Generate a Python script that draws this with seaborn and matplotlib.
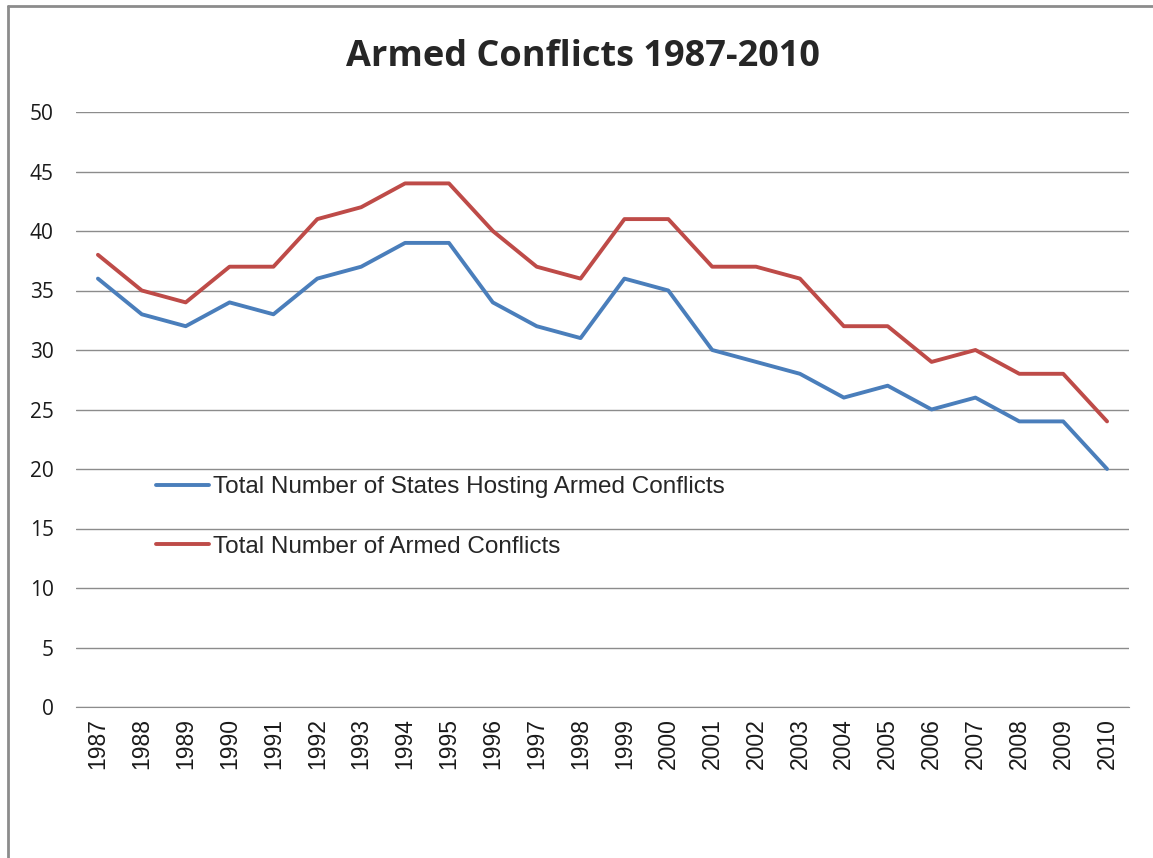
import pandas as pd
import matplotlib.pyplot as plt
import seaborn as sns
from matplotlib.lines import Line2D

years = list(range(1987, 2011))
states_hosting = [36, 33, 32, 34, 33, 36, 37, 39, 39, 34, 32, 31,
                  36, 35, 30, 29, 28, 26, 27, 25, 26, 24, 24, 20]
armed_conflicts = [38, 35, 34, 37, 37, 41, 42, 44, 44, 40, 37, 36,
                   41, 41, 37, 37, 36, 32, 32, 29, 30, 28, 28, 24]
series_names = ["Total Number of States Hosting Armed Conflicts",
                "Total Number of Armed Conflicts"]

df = pd.DataFrame({
    "year": [str(y) for y in years] * 2,
    "value": states_hosting + armed_conflicts,
    "series": [series_names[0]] * len(years) + [series_names[1]] * len(years),
})

sns.set_style("white")
plt.rcParams['font.family'] = ['Liberation Sans', 'DejaVu Sans']

W, H = 1153, 858
fig = plt.figure(figsize=(W / 100, H / 100), dpi=100)
ax = fig.add_axes([76 / W, 1 - 707 / H, (1129 - 76) / W, (707 - 112) / H])

palette = {series_names[0]: "#4A7EBB", series_names[1]: "#BE4B48"}
sns.lineplot(data=df, x="year", y="value", hue="series", palette=palette,
             linewidth=2.8, ax=ax, legend=False, sort=False)

ax.set_ylim(0, 50)
ax.set_xlim(-0.5, len(years) - 0.5)
ax.set_yticks(range(0, 51, 5))
ax.yaxis.grid(True, color="#8c8c8c", linewidth=1)
ax.set_axisbelow(True)
for s in ["top", "right", "left"]:
    ax.spines[s].set_visible(False)
ax.spines["bottom"].set_color("#8c8c8c")
ax.set_xlabel("")
ax.set_ylabel("")
ax.tick_params(axis="x", labelrotation=90, labelsize=16.5, length=0, pad=8,
               labelcolor="#1a1a1a")
ax.tick_params(axis="y", length=0, pad=16, labelcolor="#1a1a1a")
for lbl in ax.get_yticklabels():
    lbl.set_family(["Open Sans", "DejaVu Sans"])
    lbl.set_fontsize(15)

fig.text(583 / W, 1 - 57 / H, "Armed Conflicts 1987-2010", ha="center",
         va="center", fontsize=26, fontweight="bold",
         family=["Open Sans", "DejaVu Sans"])

handles = [Line2D([], [], color=palette[n], linewidth=2.8) for n in series_names]
fig.legend(handles, series_names, loc="center left",
           bbox_to_anchor=(134 / W, 1 - 517 / H), frameon=False,
           fontsize=17.5, handlelength=2.2, handletextpad=0.15, labelspacing=1.55)

# outer chart border (left and top edges visible)
fig.add_artist(Line2D([7.5 / W, 7.5 / W], [0, 1 - 6 / H], color="#8c8c8c",
                      linewidth=2, transform=fig.transFigure))
fig.add_artist(Line2D([7.5 / W, 1], [1 - 6 / H, 1 - 6 / H], color="#8c8c8c",
                      linewidth=2, transform=fig.transFigure))

fig.savefig("out.png", dpi=100)
